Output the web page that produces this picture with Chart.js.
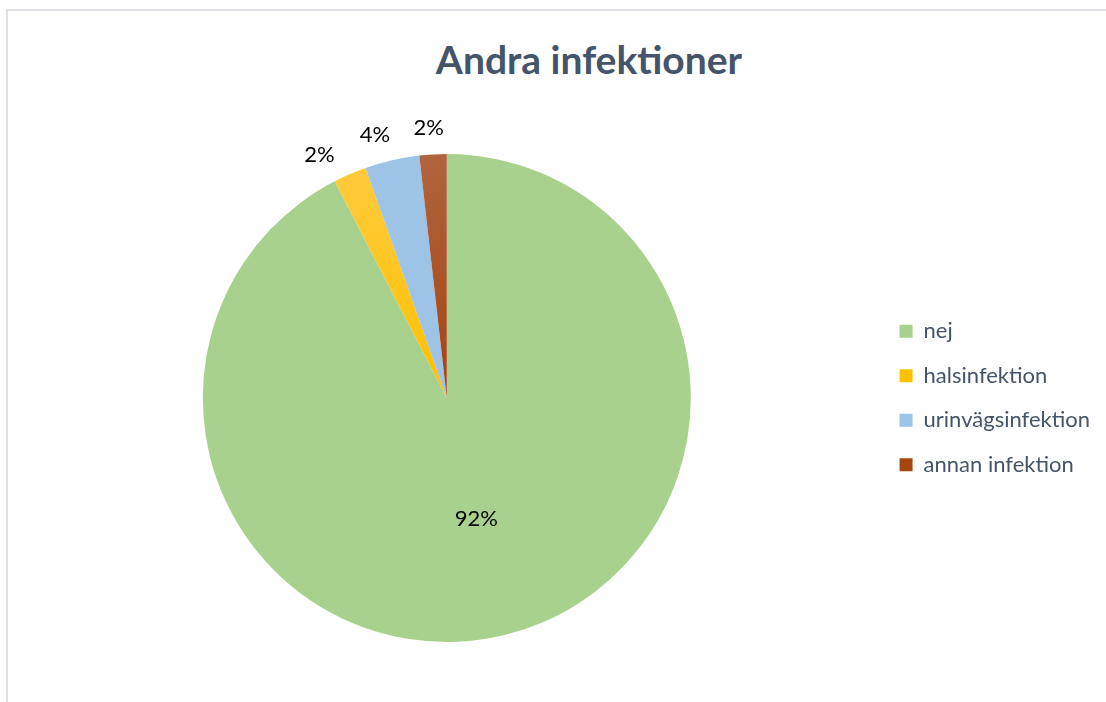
<!DOCTYPE html>
<html>
<head>
<meta charset="utf-8">
<script src="https://cdn.jsdelivr.net/npm/chart.js@4.4.1/dist/chart.umd.min.js"></script>
<style>
  html, body { margin: 0; padding: 0; background: #fff; overflow: hidden; }
  #wrap { position: relative; width: 1106px; height: 702px; }
  #frame { position: absolute; left: 6px; top: 9px; width: 1200px; height: 800px;
           border-left: 2px solid #DDE1E7; border-top: 2px solid #DDE1E7; }
  #title { position: absolute; left: 389px; width: 400px; top: 36px; text-align: center;
           font: bold 39px Lato, sans-serif; color: #44546A; white-space: nowrap; }
  #c { position: absolute; left: 0; top: 0; }
</style>
</head>
<body>
<div id="wrap">
  <div id="frame"></div>
  <div id="title">Andra infektioner</div>
  <canvas id="c" width="1106" height="702"></canvas>
</div>
<script>
const categories = ["nej", "halsinfektion", "urinvägsinfektion", "annan infektion"];
const values = [92.4, 2.2, 3.6, 1.8];
const colors = ["#A9D18E", "#FFC000", "#9DC3E6", "#A5450F"];
const colorsTop = ["#A9D18E", "#FFCB3F", "#9DC3E6", "#B0643F"];

function sliceFill(ctx) {
  const chart = ctx.chart;
  const i = ctx.dataIndex;
  const area = chart.chartArea;
  if (!area) return colors[i];
  const cy = (area.top + area.bottom) / 2;
  const g = chart.ctx.createLinearGradient(0, area.top, 0, cy);
  g.addColorStop(0, colorsTop[i]);
  g.addColorStop(1, colors[i]);
  return g;
}

const labelPlugin = {
  id: 'sliceLabels',
  afterDatasetsDraw(chart) {
    const meta = chart.getDatasetMeta(0);
    const total = values.reduce((a, b) => a + b, 0);
    const c = chart.ctx;
    c.save();
    c.font = "22px Lato, sans-serif";
    c.fillStyle = "#000";
    c.textAlign = "center";
    c.textBaseline = "middle";
    meta.data.forEach((arc, i) => {
      const p = arc.getProps(['x', 'y', 'startAngle', 'endAngle', 'outerRadius'], true);
      const share = values[i] / total;
      const txt = Math.round(share * 100) + "%";
      let mid = (p.startAngle + p.endAngle) / 2;
      let d;
      if (share > 0.2) {
        d = p.outerRadius * 0.51;
      } else {
        let rel = mid + Math.PI / 2; // angle from top, clockwise
        while (rel > Math.PI) rel -= 2 * Math.PI;
        while (rel < -Math.PI) rel += 2 * Math.PI;
        mid = -Math.PI / 2 + rel * 1.18;
        d = p.outerRadius + 26 + 12 * Math.abs(Math.sin(rel));
      }
      c.fillText(txt, p.x + Math.cos(mid) * d, p.y + Math.sin(mid) * d);
    });
    c.restore();
  }
};

new Chart(document.getElementById('c'), {
  type: 'pie',
  data: {
    labels: categories,
    datasets: [{
      data: values,
      backgroundColor: sliceFill,
      borderWidth: 0
    }]
  },
  options: {
    responsive: false,
    animation: false,
    layout: { padding: { top: 154, bottom: 60, left: 16.5, right: 6 } },
    plugins: {
      title: { display: false },
      tooltip: { enabled: false },
      legend: {
        position: 'right',
        align: 'center',
        labels: {
          boxWidth: 13,
          boxHeight: 13,
          padding: 22.5,
          color: '#44546A',
          font: { family: 'Lato', size: 22 },
          generateLabels(chart) {
            return categories.map((t, i) => ({
              text: t, fillStyle: colors[i], strokeStyle: colors[i], lineWidth: 0,
              hidden: false, index: i, fontColor: '#44546A'
            }));
          }
        }
      }
    }
  },
  plugins: [labelPlugin]
});
</script>
</body>
</html>
